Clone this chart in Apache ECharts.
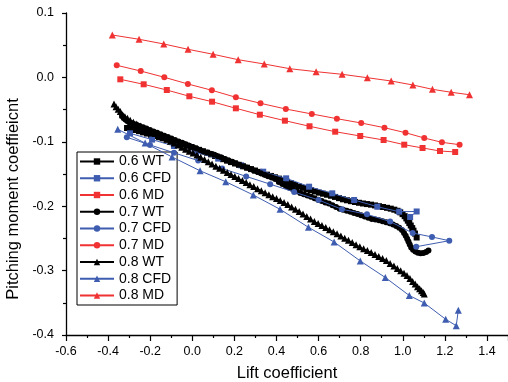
<!DOCTYPE html>
<html><head><meta charset="utf-8">
<script src="https://cdn.jsdelivr.net/npm/echarts@6/dist/echarts.min.js"></script>
<style>html,body{margin:0;padding:0;background:#fff}#c{width:508px;height:382px}</style>
</head><body><div id="c"></div>
<script>
// ---- data ----
const seriesNames = ['0.6 WT','0.6 CFD','0.6 MD','0.7 WT','0.7 CFD','0.7 MD','0.8 WT','0.8 CFD','0.8 MD'];
const xTicks = [-0.6,-0.4,-0.2,0.0,0.2,0.4,0.6,0.8,1.0,1.2,1.4];
const yTicks = [-0.4,-0.3,-0.2,-0.1,0.0,0.1];

const wt06 = [[-0.310,-0.0786],[-0.291,-0.0798],[-0.272,-0.0817],[-0.253,-0.0835],[-0.234,-0.0854],[-0.215,-0.0872],[-0.196,-0.0891],[-0.177,-0.0910],[-0.158,-0.0929],[-0.139,-0.0947],[-0.120,-0.0966],[-0.101,-0.0984],[-0.082,-0.1003],[-0.063,-0.1022],[-0.044,-0.1040],[-0.025,-0.1061],[-0.006,-0.1083],[0.013,-0.1104],[0.032,-0.1125],[0.051,-0.1147],[0.070,-0.1170],[0.089,-0.1195],[0.108,-0.1220],[0.127,-0.1245],[0.146,-0.1270],[0.165,-0.1293],[0.184,-0.1315],[0.203,-0.1337],[0.222,-0.1358],[0.241,-0.1380],[0.260,-0.1402],[0.279,-0.1424],[0.298,-0.1446],[0.317,-0.1467],[0.336,-0.1489],[0.355,-0.1510],[0.374,-0.1530],[0.393,-0.1551],[0.412,-0.1572],[0.431,-0.1596],[0.450,-0.1620],[0.469,-0.1645],[0.488,-0.1670],[0.507,-0.1695],[0.526,-0.1715],[0.545,-0.1734],[0.564,-0.1752],[0.583,-0.1771],[0.602,-0.1790],[0.621,-0.1806],[0.640,-0.1822],[0.659,-0.1838],[0.678,-0.1856],[0.697,-0.1875],[0.716,-0.1893],[0.735,-0.1908],[0.754,-0.1922],[0.773,-0.1935],[0.792,-0.1947],[0.811,-0.1958],[0.830,-0.1967],[0.849,-0.1976],[0.868,-0.1988],[0.887,-0.2000],[0.906,-0.2012],[0.925,-0.2025],[0.943,-0.2038],[0.960,-0.2054],[0.975,-0.2071],[0.988,-0.2095],[0.999,-0.2123],[1.009,-0.2155],[1.017,-0.2190],[1.024,-0.2225],[1.031,-0.2262],[1.038,-0.2300],[1.045,-0.2340],[1.051,-0.2380],[1.058,-0.2425],[1.066,-0.2486]];

const cfd06 = [[-0.296,-0.0868],[-0.191,-0.0966],[-0.087,-0.1065],[0.018,-0.1163],[0.123,-0.1261],[0.232,-0.1365],[0.337,-0.1464],[0.446,-0.1567],[0.555,-0.1697],[0.665,-0.1800],[0.769,-0.1904],[0.879,-0.2008],[0.983,-0.2085],[1.066,-0.2082],[1.035,-0.2168]];

const md06 = [[-0.342,-0.0030],[-0.231,-0.0107],[-0.121,-0.0196],[-0.014,-0.0293],[0.094,-0.0377],[0.207,-0.0480],[0.321,-0.0579],[0.440,-0.0672],[0.557,-0.0759],[0.679,-0.0843],[0.798,-0.0910],[0.909,-0.0972],[1.007,-0.1045],[1.094,-0.1096],[1.177,-0.1143],[1.249,-0.1158]];

const wt07 = [[-0.334,-0.0600],[-0.326,-0.0630],[-0.318,-0.0655],[-0.309,-0.0678],[-0.300,-0.0695],[-0.290,-0.0710],[-0.278,-0.0723],[-0.265,-0.0736],[-0.250,-0.0755],[-0.234,-0.0773],[-0.218,-0.0795],[-0.201,-0.0818],[-0.184,-0.0839],[-0.167,-0.0861],[-0.150,-0.0884],[-0.133,-0.0905],[-0.116,-0.0927],[-0.099,-0.0949],[-0.082,-0.0972],[-0.065,-0.0994],[-0.048,-0.1016],[-0.031,-0.1038],[-0.014,-0.1060],[0.003,-0.1081],[0.020,-0.1103],[0.037,-0.1127],[0.054,-0.1149],[0.071,-0.1168],[0.088,-0.1185],[0.105,-0.1201],[0.122,-0.1223],[0.139,-0.1245],[0.156,-0.1267],[0.173,-0.1289],[0.190,-0.1311],[0.207,-0.1333],[0.224,-0.1355],[0.241,-0.1378],[0.258,-0.1400],[0.275,-0.1422],[0.292,-0.1444],[0.309,-0.1467],[0.326,-0.1489],[0.343,-0.1511],[0.360,-0.1533],[0.377,-0.1555],[0.394,-0.1577],[0.411,-0.1625],[0.428,-0.1656],[0.445,-0.1685],[0.462,-0.1712],[0.479,-0.1740],[0.496,-0.1768],[0.513,-0.1795],[0.530,-0.1815],[0.547,-0.1835],[0.564,-0.1855],[0.581,-0.1877],[0.598,-0.1900],[0.615,-0.1921],[0.632,-0.1941],[0.649,-0.1960],[0.666,-0.1984],[0.683,-0.2012],[0.700,-0.2040],[0.717,-0.2057],[0.734,-0.2072],[0.751,-0.2087],[0.768,-0.2105],[0.785,-0.2122],[0.802,-0.2142],[0.819,-0.2160],[0.836,-0.2178],[0.853,-0.2197],[0.870,-0.2206],[0.887,-0.2218],[0.904,-0.2232],[0.921,-0.2248],[0.938,-0.2264],[0.954,-0.2285],[0.969,-0.2308],[0.983,-0.2336],[0.996,-0.2370],[1.006,-0.2415],[1.014,-0.2460],[1.021,-0.2505],[1.027,-0.2550],[1.033,-0.2595],[1.040,-0.2640],[1.049,-0.2678],[1.060,-0.2705],[1.072,-0.2722],[1.085,-0.2731],[1.098,-0.2727],[1.111,-0.2711],[1.122,-0.2688]];

const cfd07 = [[-0.311,-0.0930],[-0.201,-0.1048],[-0.087,-0.1171],[0.028,-0.1292],[0.142,-0.1415],[0.256,-0.1537],[0.370,-0.1658],[0.484,-0.1780],[0.600,-0.1904],[0.711,-0.2048],[0.830,-0.2126],[0.940,-0.2238],[1.047,-0.2416],[1.139,-0.2478],[1.221,-0.2536],[1.064,-0.2629]];

const md07 = [[-0.359,0.0188],[-0.245,0.0099],[-0.133,0.0002],[-0.021,-0.0102],[0.093,-0.0200],[0.207,-0.0309],[0.324,-0.0402],[0.4445,-0.0491],[0.568,-0.0568],[0.687,-0.0641],[0.8025,-0.0708],[0.913,-0.0781],[1.013,-0.0859],[1.102,-0.0941],[1.186,-0.1008],[1.270,-0.1045]];

const wt08 = [[-0.372,-0.0413],[-0.362,-0.0455],[-0.352,-0.0495],[-0.342,-0.0530],[-0.331,-0.0580],[-0.320,-0.0612],[-0.308,-0.0635],[-0.295,-0.0665],[-0.280,-0.0695],[-0.264,-0.0725],[-0.248,-0.0755],[-0.230,-0.0785],[-0.212,-0.0815],[-0.194,-0.0843],[-0.176,-0.0872],[-0.158,-0.0902],[-0.140,-0.0931],[-0.122,-0.0960],[-0.104,-0.0990],[-0.086,-0.1020],[-0.068,-0.1050],[-0.050,-0.1085],[-0.032,-0.1115],[-0.014,-0.1145],[0.004,-0.1175],[0.022,-0.1205],[0.040,-0.1240],[0.058,-0.1275],[0.076,-0.1310],[0.094,-0.1345],[0.112,-0.1380],[0.130,-0.1410],[0.148,-0.1442],[0.166,-0.1475],[0.184,-0.1506],[0.202,-0.1537],[0.220,-0.1568],[0.238,-0.1602],[0.256,-0.1633],[0.274,-0.1665],[0.292,-0.1696],[0.310,-0.1728],[0.328,-0.1759],[0.346,-0.1790],[0.364,-0.1822],[0.382,-0.1853],[0.400,-0.1882],[0.418,-0.1912],[0.436,-0.1942],[0.454,-0.1975],[0.472,-0.2012],[0.490,-0.2047],[0.508,-0.2082],[0.526,-0.2121],[0.544,-0.2160],[0.562,-0.2198],[0.580,-0.2237],[0.598,-0.2268],[0.616,-0.2299],[0.634,-0.2330],[0.652,-0.2365],[0.670,-0.2397],[0.688,-0.2428],[0.706,-0.2462],[0.724,-0.2497],[0.742,-0.2530],[0.760,-0.2564],[0.778,-0.2598],[0.796,-0.2631],[0.814,-0.2659],[0.832,-0.2688],[0.850,-0.2719],[0.868,-0.2750],[0.886,-0.2782],[0.904,-0.2813],[0.922,-0.2845],[0.940,-0.2890],[0.958,-0.2930],[0.974,-0.2967],[0.990,-0.3003],[1.006,-0.3040],[1.020,-0.3075],[1.034,-0.3122],[1.047,-0.3170],[1.059,-0.3210],[1.070,-0.3250],[1.080,-0.3283],[1.089,-0.3312],[1.097,-0.3340],[1.102,-0.3363]];

const cfd08 = [[-0.354,-0.0806],[-0.224,-0.1020],[-0.096,-0.1236],[0.037,-0.1450],[0.159,-0.1620],[0.290,-0.1826],[0.417,-0.2048],[0.552,-0.2328],[0.674,-0.2556],[0.798,-0.2850],[0.917,-0.3107],[1.031,-0.3387],[1.102,-0.3503],[1.204,-0.3756],[1.254,-0.3856],[1.264,-0.3615]];

const md08 = [[-0.380,0.0658],[-0.253,0.0592],[-0.1355,0.0519],[-0.020,0.0436],[0.099,0.0359],[0.218,0.0275],[0.342,0.0208],[0.4635,0.0135],[0.5885,0.0089],[0.712,0.0048],[0.832,-0.0005],[0.945,-0.0056],[1.048,-0.0118],[1.141,-0.0185],[1.230,-0.0231],[1.317,-0.0269]];

// ---- chart ----
const FONT = 'Liberation Sans, Arial, Helvetica, sans-serif';
const BLACK = '#000000', BLUE = '#3f5db0', RED = '#f03232';
const dataSets = [wt06, cfd06, md06, wt07, cfd07, md07, wt08, cfd08, md08];
const colors = [BLACK, BLUE, RED, BLACK, BLUE, RED, BLACK, BLUE, RED];
const symbols = ['rect','rect','rect','circle','circle','circle','triangle','triangle','triangle'];

const series = seriesNames.map((n, i) => ({
  name: n, type: 'line', data: dataSets[i],
  symbol: symbols[i], symbolSize: symbols[i] === 'triangle' ? 7 : 6,
  showAllSymbol: true,
  itemStyle: { color: colors[i] },
  lineStyle: { color: colors[i], width: 1 },
  emphasis: { disabled: true },
  z: 2 + i
}));

const chart = echarts.init(document.getElementById('c'), null, { renderer: 'canvas' });
chart.setOption({
  animation: false,
  backgroundColor: '#fff',
  textStyle: { fontFamily: FONT },
  grid: { left: 66, right: 0, top: 13, bottom: 47, containLabel: false, outerBoundsMode: 'none' },
  legend: {
    orient: 'vertical', left: 77, top: 152,
    data: seriesNames,
    itemWidth: 34, itemHeight: 8, itemGap: 2.75,
    padding: [2.5, 6, 2.5, 2],
    borderColor: '#000', borderWidth: 1, borderRadius: 0,
    backgroundColor: '#fff',
    textStyle: { fontFamily: FONT, fontSize: 14, color: '#000', lineHeight: 14, padding: [0,0,0,0] },
    itemStyle: { borderWidth: 0 }
  },
  xAxis: {
    type: 'value', min: -0.6, max: 1.5, interval: 0.2,
    name: 'Lift coefficient', nameLocation: 'middle', nameGap: 30,
    nameTextStyle: { fontFamily: FONT, fontSize: 16.5, color: '#000' },
    axisLine: { onZero: false, lineStyle: { color: '#000', width: 1.3 } },
    axisTick: { inside: false, length: 6, lineStyle: { color: '#000', width: 1.2 } },
    minorTick: { show: true, splitNumber: 2, length: 3, lineStyle: { color: '#000', width: 1.2 } },
    splitLine: { show: false },
    axisLabel: { fontFamily: FONT, fontSize: 12.5, color: '#000', margin: 10, showMaxLabel: false,
      formatter: v => { const t = xTicks.find(k => Math.abs(k - v) < 1e-9); return t === undefined ? '' : t.toFixed(1); } }
  },
  yAxis: {
    type: 'value', min: -0.4, max: 0.1, interval: 0.1,
    name: 'Pitching moment coeffieicnt', nameLocation: 'middle', nameGap: 44,
    nameTextStyle: { fontFamily: FONT, fontSize: 16.5, color: '#000', padding: [0, 50, 0, 0] },
    axisLine: { onZero: false, lineStyle: { color: '#000', width: 1.3 } },
    axisTick: { inside: false, length: 4, lineStyle: { color: '#000', width: 1.2 } },
    minorTick: { show: true, splitNumber: 2, length: 3, lineStyle: { color: '#000', width: 1.2 } },
    splitLine: { show: false },
    axisLabel: { fontFamily: FONT, fontSize: 12.5, color: '#000', margin: 12,
      formatter: v => { const t = yTicks.find(k => Math.abs(k - v) < 1e-9); return t === undefined ? '' : t.toFixed(1); } }
  },
  series: series
});
</script>
</body></html>
